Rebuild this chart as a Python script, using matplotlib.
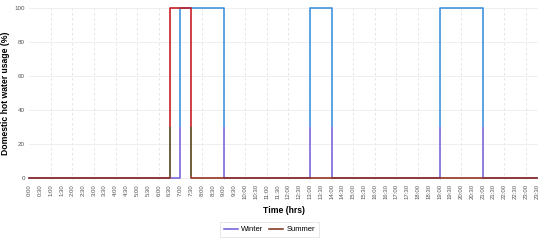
import numpy as np
import matplotlib.pyplot as plt
from matplotlib.patches import Rectangle
from matplotlib.lines import Line2D

plt.rcParams['font.family'] = ['Liberation Sans', 'DejaVu Sans']

# Data: half-hour slots 0:00 .. 23:30
times = [f"{h}:{m:02d}" for h in range(24) for m in (0, 30)]
winter = [0] * 48
summer = [0] * 48
for i in list(range(14, 18)) + list(range(26, 28)) + list(range(38, 42)):
    winter[i] = 100
for i in range(13, 15):
    summer[i] = 100

x = np.arange(len(times))

fig = plt.figure(figsize=(5.5, 2.41), dpi=100)
ax = fig.add_axes([0.053, 0.253, 0.925, 0.72])

def draw(y, top_col, low_col, base_col, z):
    # colour changes along the height, like the gradient in the original
    bands = [(30, 200, top_col), (1.5, 30, low_col), (-5, 1.5, base_col)]
    for y0, y1, c in bands:
        ln, = ax.plot(x, y, drawstyle='steps-post', color=c, lw=1.15, zorder=z)
        clip = Rectangle((-5, y0), 60, y1 - y0, transform=ax.transData)
        ln.set_clip_path(clip)

draw(winter, '#3a8fdc', '#7a62d8', '#7a62d8', 3)
draw(summer, '#c4161c', '#4e3c10', '#8c2c18', 4)

ax.set_xlim(0, 47.1)
ax.set_ylim(-1, 101)
ax.set_yticks([0, 20, 40, 60, 80, 100])
ax.set_xticks(x)
ax.set_xticklabels(times, rotation=90, fontsize=4.3, color='#555555')
ax.tick_params(axis='y', labelsize=4.5, labelcolor='#555555', length=0, pad=3)
ax.tick_params(axis='x', length=0, pad=3)

for s in ax.spines.values():
    s.set_visible(False)

ax.grid(axis='y', color='#ececec', lw=0.6)
for h in range(2, 48, 2):
    ax.axvline(h, color='#e2e2e2', lw=0.6, ls=(0, (3, 3)), zorder=0)

ax.set_ylabel('Domestic hot water usage (%)', fontsize=6.2, fontweight='bold', labelpad=3)
ax.set_xlabel('Time (hrs)', fontsize=6.2, fontweight='bold', labelpad=5)

handles = [Line2D([], [], color='#6a5ad8', lw=1.1), Line2D([], [], color='#7a2c12', lw=1.1)]
leg = fig.legend(handles, ['Winter', 'Summer'], loc='lower center', bbox_to_anchor=(0.49, 0.0),
                 ncol=2, fontsize=5.5, frameon=True, fancybox=False, handlelength=1.8,
                 handletextpad=0.4, columnspacing=0.8, borderpad=0.5)
leg.get_frame().set_edgecolor('#dddddd')
leg.get_frame().set_linewidth(0.6)

fig.savefig('out.png', dpi=100)
